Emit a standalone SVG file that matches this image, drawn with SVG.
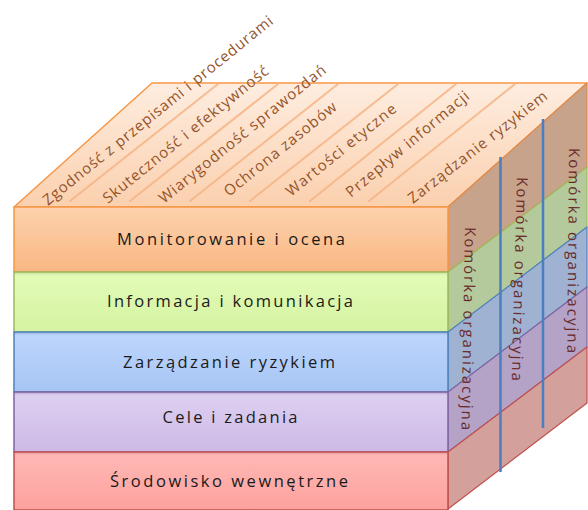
<svg xmlns="http://www.w3.org/2000/svg" width="588" height="510" viewBox="0 0 588 510">
  <defs>
    <linearGradient id="gTop" x1="0" y1="0" x2="0" y2="1">
      <stop offset="0" stop-color="#FEEDE0"/>
      <stop offset="1" stop-color="#FBD0AE"/>
    </linearGradient>
    <linearGradient id="gOrange" x1="0" y1="0" x2="0" y2="1">
      <stop offset="0" stop-color="#FDD2AC"/>
      <stop offset="1" stop-color="#F9B784"/>
    </linearGradient>
    <linearGradient id="gGreen" x1="0" y1="0" x2="0" y2="1">
      <stop offset="0" stop-color="#C9DE9E"/>
      <stop offset="0.06" stop-color="#E2FBB6"/>
      <stop offset="1" stop-color="#D5F3A2"/>
    </linearGradient>
    <linearGradient id="gBlue" x1="0" y1="0" x2="0" y2="1">
      <stop offset="0" stop-color="#9DB6DE"/>
      <stop offset="0.06" stop-color="#BCD5FC"/>
      <stop offset="1" stop-color="#A7C5F4"/>
    </linearGradient>
    <linearGradient id="gPurple" x1="0" y1="0" x2="0" y2="1">
      <stop offset="0" stop-color="#BBAAD2"/>
      <stop offset="0.06" stop-color="#DDCFF1"/>
      <stop offset="1" stop-color="#CDB9E6"/>
    </linearGradient>
    <linearGradient id="gRed" x1="0" y1="0" x2="0" y2="1">
      <stop offset="0" stop-color="#E39C99"/>
      <stop offset="0.06" stop-color="#FFB7B4"/>
      <stop offset="1" stop-color="#FCA29E"/>
    </linearGradient>
    <style>
      .face { stroke-width: 1.5; stroke-linejoin: round; }
      .side { stroke-width: 1.2; stroke-linejoin: round; }
      .front-label { font-family: "Open Sans", "Liberation Sans", sans-serif; font-size: 16.5px; fill: #1A1A1A; text-anchor: middle; }
      .top-label { font-family: "Open Sans", "Liberation Sans", sans-serif; font-size: 15px; fill: #94532A; }
      .side-label { font-family: "Open Sans", "Liberation Sans", sans-serif; font-size: 15px; fill: #6A2A2A; }
      .column-line { stroke: #F6B484; stroke-width: 2; stroke-linecap: round; opacity: 0.85; }
      .unit-line { stroke: #4A7EC0; stroke-width: 2.5; }
    </style>
  </defs>

  <!-- top face with the seven control columns -->
  <g id="top-face">
    <polygon class="face" points="14,207 448,207 587,83 152,83" fill="url(#gTop)" stroke="#F79646"/>
    <line class="column-line" x1="70" y1="201" x2="218" y2="84"/>
    <line class="column-line" x1="130" y1="201" x2="278" y2="84"/>
    <line class="column-line" x1="190" y1="201" x2="338" y2="84"/>
    <line class="column-line" x1="250" y1="201" x2="398" y2="84"/>
    <line class="column-line" x1="310" y1="201" x2="456" y2="84"/>
    <line class="column-line" x1="369" y1="201" x2="515" y2="84"/>
    <text class="top-label" transform="translate(48,206) rotate(-39)" textLength="291" lengthAdjust="spacing">Zgodność z przepisami i procedurami</text>
    <text class="top-label" transform="translate(108,204) rotate(-39)" textLength="208" lengthAdjust="spacing">Skuteczność i efektywność</text>
    <text class="top-label" transform="translate(164,204) rotate(-39)" textLength="210" lengthAdjust="spacing">Wiarygodność sprawozdań</text>
    <text class="top-label" transform="translate(229,197) rotate(-39)" textLength="140" lengthAdjust="spacing">Ochrona zasobów</text>
    <text class="top-label" transform="translate(291,197) rotate(-39)" textLength="137" lengthAdjust="spacing">Wartości etyczne</text>
    <text class="top-label" transform="translate(351,198) rotate(-40)" textLength="156" lengthAdjust="spacing">Przepływ informacji</text>
    <text class="top-label" transform="translate(413,204) rotate(-38)" textLength="172" lengthAdjust="spacing">Zarządzanie ryzykiem</text>
  </g>

  <!-- layer 1: monitoring -->
  <g id="layer-monitoring">
    <polygon class="side" points="448,207 587,83 587,167 448,272" fill="#C6A38A" stroke="#E08A4A"/>
    <rect class="face" x="14" y="207" width="434" height="65" fill="url(#gOrange)" stroke="#F79646"/>
    <text class="front-label" x="231" y="245" textLength="228" lengthAdjust="spacing">Monitorowanie i ocena</text>
  </g>

  <!-- layer 2: information -->
  <g id="layer-information">
    <polygon class="side" points="448,272 587,167 587,227 448,332" fill="#B4CA9C" stroke="#9BBB59"/>
    <rect class="face" x="14" y="272" width="434" height="60" fill="url(#gGreen)" stroke="#9BBB59"/>
    <text class="front-label" x="230" y="307" textLength="246" lengthAdjust="spacing">Informacja i komunikacja</text>
  </g>

  <!-- layer 3: risk management -->
  <g id="layer-risk">
    <polygon class="side" points="448,332 587,227 587,287 448,392" fill="#A0B2D2" stroke="#4F81BD"/>
    <rect class="face" x="14" y="332" width="434" height="60" fill="url(#gBlue)" stroke="#4F81BD"/>
    <text class="front-label" x="229" y="368" textLength="212" lengthAdjust="spacing">Zarządzanie ryzykiem</text>
  </g>

  <!-- layer 4: objectives -->
  <g id="layer-objectives">
    <polygon class="side" points="448,392 587,287 587,347 448,452" fill="#B4A3C7" stroke="#8064A2"/>
    <rect class="face" x="14" y="392" width="434" height="60" fill="url(#gPurple)" stroke="#8064A2"/>
    <text class="front-label" x="230" y="423" textLength="135" lengthAdjust="spacing">Cele i zadania</text>
  </g>

  <!-- layer 5: internal environment -->
  <g id="layer-environment">
    <polygon class="side" points="448,452 587,347 587,403 448,509" fill="#D3A09C" stroke="#C0504D"/>
    <rect class="face" x="14" y="452" width="434" height="58" fill="url(#gRed)" stroke="#C0504D"/>
    <text class="front-label" x="229" y="487" textLength="238" lengthAdjust="spacing">Środowisko wewnętrzne</text>
  </g>

  <!-- organisational units on the right face -->
  <g id="unit-1">
    <text class="side-label" transform="translate(465,227) rotate(91)" textLength="203" lengthAdjust="spacing">Komórka organizacyjna</text>
  </g>
  <g id="unit-2">
    <text class="side-label" transform="translate(517,177) rotate(91.5)" textLength="204" lengthAdjust="spacing">Komórka organizacyjna</text>
  </g>
  <g id="unit-3">
    <text class="side-label" transform="translate(569,148) rotate(90.5)" textLength="205" lengthAdjust="spacing">Komórka organizacyjna</text>
  </g>

  <!-- dividers between the units -->
  <g id="connectors">
    <line class="unit-line" x1="500.5" y1="157" x2="500.5" y2="472"/>
    <line class="unit-line" x1="543" y1="119" x2="543" y2="428"/>
  </g>
</svg>
